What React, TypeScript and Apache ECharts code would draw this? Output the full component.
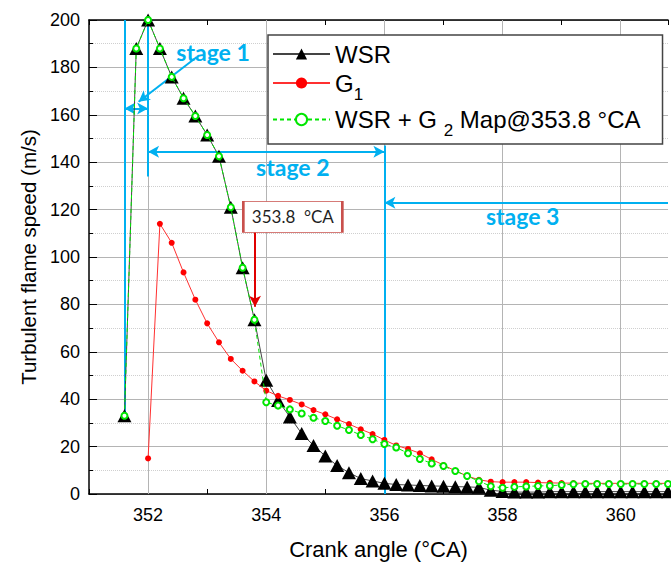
import React, { useEffect, useRef } from "react";
import * as echarts from "echarts";

// Crank angles (°CA) and turbulent flame speeds (m/s)
const wsrAngles = [351.6, 351.8, 352.0, 352.2, 352.4, 352.6, 352.8, 353.0, 353.2, 353.4, 353.6, 353.8, 354.0, 354.2, 354.4, 354.6, 354.8, 355.0, 355.2, 355.4, 355.6, 355.8, 356.0, 356.2, 356.4, 356.6, 356.8, 357.0, 357.2, 357.4, 357.6, 357.8, 358.0, 358.2, 358.4, 358.6, 358.8, 359.0, 359.2, 359.4, 359.6, 359.8, 360.0, 360.2, 360.4, 360.6, 360.8];
const wsrSpeed = [33, 188, 200, 188, 176, 167, 159.5, 151.5, 142.5, 121, 95.5, 73.5, 48, 39.5, 32.5, 25.5, 20.5, 16, 12, 9, 6.5, 5.5, 4.5, 4.0, 3.8, 3.6, 3.4, 3.3, 3.1, 3.0, 2.8, 1.6, 1.1, 0.8, 0.8, 0.8, 1.0, 1.0, 1.0, 1.0, 1.0, 1.0, 1.0, 1.0, 1.0, 1.0, 1.0];

const g1Angles = [352.0, 352.2, 352.4, 352.6, 352.8, 353.0, 353.2, 353.4, 353.6, 353.8, 354.0, 354.2, 354.4, 354.6, 354.8, 355.0, 355.2, 355.4, 355.6, 355.8, 356.0, 356.2, 356.4, 356.6, 356.8, 357.0, 357.2, 357.4, 357.6, 357.8, 358.0, 358.2, 358.4, 358.6, 358.8, 359.0, 359.2, 359.4, 359.6, 359.8, 360.0, 360.2, 360.4, 360.6, 360.8];
const g1Speed = [15, 114, 106, 93.5, 82, 72, 64, 57, 52, 47.5, 43.6, 41.4, 39.7, 37.8, 35.4, 33.6, 31.5, 29.5, 27.3, 25.3, 22.8, 20.5, 19, 17.2, 14.6, 12.2, 9.8, 7.6, 6, 5.2, 5, 5, 5, 4.8, 4.7, 4.6, 4.6, 4.5, 4.5, 4.5, 4.5, 4.5, 4.5, 4.5, 4.5];

const mapAngles = [351.6, 351.8, 352.0, 352.2, 352.4, 352.6, 352.8, 353.0, 353.2, 353.4, 353.6, 353.8, 354.0, 354.2, 354.4, 354.6, 354.8, 355.0, 355.2, 355.4, 355.6, 355.8, 356.0, 356.2, 356.4, 356.6, 356.8, 357.0, 357.2, 357.4, 357.6, 357.8, 358.0, 358.2, 358.4, 358.6, 358.8, 359.0, 359.2, 359.4, 359.6, 359.8, 360.0, 360.2, 360.4, 360.6, 360.8];
const mapSpeed = [33, 188, 200, 188, 176, 167, 159.5, 151.5, 142.5, 121, 95.5, 73.5, 38.7, 37.3, 35.7, 34, 32.2, 30.8, 28.8, 27, 24.9, 23.1, 21.1, 19.6, 17.2, 14.8, 12.9, 11.8, 9.7, 7.6, 5.4, 3.3, 2.6, 3.0, 3.2, 3.4, 3.5, 3.8, 4.1, 4.2, 4.2, 4.2, 4.2, 4.2, 4.2, 4.2, 4.2];

const xMajorTicks = [352, 354, 356, 358, 360];
const seriesNames = ["WSR", "G1", "WSR + G2 Map@353.8 °CA"];

const BLUE = "#00b0f0";
const FONT = "Liberation Sans";

export default function App() {
  const ref = useRef<HTMLDivElement>(null);
  useEffect(() => {
    if (!ref.current) return;
    const chart = echarts.init(ref.current, undefined, { renderer: "svg" });

    const arrowEnd = (from: number[], to: number[], s0: string, s1: string) => [
      { coord: from, symbol: s0 },
      { coord: to, symbol: s1 },
    ];

    const stageLabel = (name: string, coord: number[]) => ({
      name,
      coord,
      symbol: "rect",
      symbolSize: [1, 1],
      itemStyle: { color: "rgba(0,0,0,0)" },
      label: {
        show: true,
        position: "inside",
        formatter: name,
        fontFamily: "Lato",
        fontWeight: "bold",
        fontSize: 23,
        color: BLUE,
      },
    });

    const option: any = {
      animation: false,
      backgroundColor: "#fff",
      grid: { left: 89, right: 0, top: 20, bottom: 74, containLabel: false },
      legend: {
        data: seriesNames,
        orient: "vertical",
        left: 268,
        top: 35,
        padding: [7, 22, 5, 4],
        itemWidth: 57,
        itemHeight: 14,
        itemGap: 5,
        backgroundColor: "#fff",
        borderColor: "#444",
        borderWidth: 1.5,
        formatter: (name: string) => {
          if (name === "G1") return "G{sub|1}";
          if (name === "WSR + G2 Map@353.8 °CA") return "WSR + G {sub|2} Map@353.8 °CA";
          return name;
        },
        textStyle: {
          fontFamily: FONT,
          fontSize: 24,
          color: "#000",
          rich: {
            sub: { fontFamily: FONT, fontSize: 17, color: "#000", padding: [22, 0, 0, 0] },
          },
        },
      },
      xAxis: [
        {
          type: "value",
          position: "bottom",
          min: 351,
          max: 360.8,
          interval: 1,
          name: "Crank angle (°CA)",
          nameLocation: "middle",
          nameGap: 44,
          nameTextStyle: { fontFamily: FONT, fontSize: 22, color: "#000" },
          axisLine: { show: true, onZero: false, lineStyle: { color: "#000", width: 1.5 } },
          axisTick: { show: true, inside: true, length: 5, lineStyle: { color: "#000" } },
          axisLabel: {
            fontFamily: FONT,
            fontSize: 18,
            color: "#000",
            margin: 12,
            formatter: (v: number) => (Math.abs(v % 2) < 1e-6 ? String(v) : ""),
          },
          splitLine: { show: false },
        },
        {
          type: "value",
          position: "top",
          min: 351,
          max: 360.8,
          interval: 1,
          axisLine: { show: true, onZero: false, lineStyle: { color: "#000", width: 1.5 } },
          axisTick: { show: true, inside: true, length: 5, lineStyle: { color: "#000" } },
          axisLabel: { show: false },
          splitLine: { show: false },
        },
      ],
      yAxis: {
        type: "value",
        min: 0,
        max: 200,
        interval: 20,
        name: "Turbulent flame speed (m/s)",
        nameLocation: "middle",
        nameGap: 48,
        nameTextStyle: { fontFamily: FONT, fontSize: 20.5, color: "#000" },
        axisLine: { show: true, lineStyle: { color: "#000", width: 1.5 } },
        axisTick: { show: true, inside: true, length: 8, lineStyle: { color: "#000" } },
        minorTick: { show: true, splitNumber: 2, length: 4, lineStyle: { color: "#000" } },
        axisLabel: { fontFamily: FONT, fontSize: 18, color: "#000", margin: 9 },
        splitLine: { show: true, lineStyle: { color: "#b4b4b4", width: 1 } },
        minorSplitLine: { show: true, lineStyle: { color: "#cfcfcf", type: "dotted", width: 1 } },
      },
      series: [
        {
          name: "_grid",
          type: "line",
          data: [],
          z: 1,
          silent: true,
          markLine: {
            z: 1,
            silent: true,
            symbol: "none",
            label: { show: false },
            lineStyle: { color: "#b4b4b4", width: 1, type: "solid" },
            data: xMajorTicks.map((x) => ({ xAxis: x })),
          },
        },
        {
          name: "_annot",
          type: "line",
          data: [],
          z: 2,
          silent: true,
          markLine: {
            z: 2,
            silent: true,
            symbolSize: [9, 11],
            label: { show: false },
            lineStyle: { color: BLUE, width: 2, type: "solid" },
            data: [
              arrowEnd([351.6, 33], [351.6, 200], "none", "none"),
              arrowEnd([352, 134], [352, 200], "none", "none"),
              arrowEnd([356, 0], [356, 147], "none", "none"),
              arrowEnd([351.6, 162.7], [352, 162.7], "arrow", "arrow"),
              arrowEnd([352, 144.4], [356, 144.4], "arrow", "arrow"),
              arrowEnd([356, 122.9], [360.8, 122.9], "arrow", "none"),
              arrowEnd([352.82, 184.3], [351.84, 165.5], "none", "arrow"),
              [
                { coord: [353.81, 110.5], symbol: "none", lineStyle: { color: "#e00000", width: 2 } },
                { coord: [353.81, 79], symbol: "arrow" },
              ],
            ],
          },
          markPoint: {
            z: 6,
            silent: true,
            data: [
              stageLabel("stage 1", [353.1, 186.5]),
              stageLabel("stage 2", [354.45, 138]),
              stageLabel("stage 3", [358.34, 117.3]),
              {
                name: "box",
                coord: [354.45, 116.9],
                symbol: "rect",
                symbolSize: [99, 31],
                itemStyle: { color: "#fff", borderColor: "#c9504c", borderWidth: 1.5 },
                label: {
                  show: true,
                  position: "inside",
                  formatter: "353.8  °CA",
                  fontFamily: "Lato",
                  fontWeight: "normal",
                  fontSize: 17,
                  color: "#1f1f1f",
                },
              },
            ],
          },
        },
        {
          name: "WSR",
          type: "line",
          z: 3,
          data: wsrAngles.map((a, i) => [a, wsrSpeed[i]]),
          symbol: "triangle",
          symbolSize: [14, 13],
          showAllSymbol: true,
          itemStyle: { color: "#000" },
          lineStyle: { color: "#444", width: 1 },
        },
        {
          name: "G1",
          type: "line",
          z: 4,
          data: g1Angles.map((a, i) => [a, g1Speed[i]]),
          symbol: "circle",
          symbolSize: 6,
          showAllSymbol: true,
          itemStyle: { color: "#ff0000" },
          lineStyle: { color: "#ff3030", width: 1 },
        },
        {
          name: "WSR + G2 Map@353.8 °CA",
          type: "line",
          z: 5,
          data: mapAngles.map((a, i) => [a, mapSpeed[i]]),
          symbol: "emptyCircle",
          symbolSize: 6,
          showAllSymbol: true,
          itemStyle: { color: "#00e600", borderWidth: 1.3 },
          lineStyle: { color: "#00e600", width: 1, type: [4, 3] },
        },
      ],
    };

    chart.setOption(option);
    return () => chart.dispose();
  }, []);

  return (
    <div
      ref={ref}
      style={{ position: "fixed", left: 0, top: 0, width: 671, height: 568, background: "#fff" }}
    />
  );
}
